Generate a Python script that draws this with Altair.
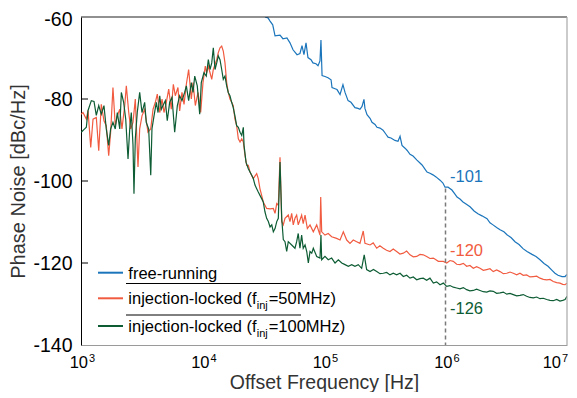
import altair as alt
import pandas as pd

FONT = "Liberation Sans"

# ---- free-running (blue): log10(freq), dBc/Hz
blue_lf = [4.514, 4.539, 4.556, 4.578, 4.597, 4.638, 4.662, 4.695, 4.720, 4.745, 4.778, 4.802,
           4.819, 4.835, 4.852, 4.868, 4.893, 4.909, 4.934, 4.951, 4.967, 4.975, 4.984, 5.008,
           5.033, 5.058, 5.066, 5.091, 5.107, 5.132, 5.156, 5.173, 5.198, 5.222, 5.255, 5.280,
           5.296, 5.313, 5.329, 5.337, 5.354, 5.379, 5.395, 5.420, 5.436, 5.461, 5.486, 5.510,
           5.527, 5.551, 5.584, 5.609, 5.626, 5.642, 5.667, 5.683, 5.708, 5.733, 5.765, 5.790,
           5.807, 5.831, 5.848, 5.872, 5.897, 5.922, 5.955, 5.979, 5.996, 6.021, 6.053, 6.078,
           6.095, 6.119, 6.144, 6.169, 6.202, 6.235, 6.267, 6.300, 6.342, 6.366, 6.391, 6.424,
           6.449, 6.481, 6.506, 6.539, 6.572, 6.605, 6.638, 6.671, 6.712, 6.745, 6.778, 6.811,
           6.844, 6.877, 6.901, 6.926, 6.959, 6.984, 7.000]
blue_db = [-60.0, -60.2, -61.0, -61.9, -64.6, -64.4, -65.3, -65.1, -66.3, -68.0, -69.2, -68.9,
           -67.0, -69.2, -66.3, -69.9, -70.4, -71.2, -71.4, -71.9, -70.7, -65.6, -74.3, -74.5,
           -74.8, -75.3, -77.2, -77.5, -77.7, -78.9, -76.5, -78.4, -80.4, -80.8, -82.1, -82.3,
           -82.5, -81.8, -80.1, -82.3, -83.8, -84.7, -85.7, -86.2, -86.9, -87.1, -87.6, -88.6,
           -89.3, -89.5, -90.1, -90.3, -89.1, -91.3, -92.0, -92.5, -93.5, -93.9, -94.9, -95.6,
           -96.1, -97.1, -97.8, -98.1, -98.5, -99.0, -99.8, -100.5, -101.5, -101.5, -102.2, -103.2,
           -103.9, -104.4, -105.1, -105.6, -106.3, -107.3, -108.0, -108.5, -109.2, -110.2, -110.7, -111.4,
           -111.9, -112.4, -113.1, -113.8, -114.8, -115.5, -116.5, -117.2, -117.9, -118.4, -119.2, -120.1,
           -120.8, -121.8, -122.5, -123.0, -123.3, -123.3, -122.8]

# ---- injection-locked, f_inj = 50 MHz (red)
red_lf = [3.000, 3.016, 3.044, 3.058, 3.080, 3.099, 3.126, 3.146, 3.167, 3.189, 3.208, 3.228,
          3.244, 3.263, 3.282, 3.299, 3.319, 3.337, 3.360, 3.373, 3.393, 3.409, 3.428, 3.447,
          3.469, 3.483, 3.502, 3.524, 3.551, 3.574, 3.593, 3.612, 3.628, 3.648, 3.667, 3.683,
          3.702, 3.722, 3.743, 3.760, 3.776, 3.798, 3.812, 3.831, 3.848, 3.867, 3.886, 3.908,
          3.922, 3.941, 3.963, 3.985, 4.004, 4.023, 4.034, 4.048, 4.062, 4.076, 4.089, 4.103,
          4.117, 4.130, 4.144, 4.158, 4.171, 4.185, 4.199, 4.212, 4.226, 4.240, 4.253, 4.267,
          4.281, 4.295, 4.309, 4.323, 4.336, 4.350, 4.364, 4.377, 4.391, 4.418, 4.446, 4.459,
          4.473, 4.487, 4.500, 4.514, 4.528, 4.556, 4.583, 4.597, 4.611, 4.624, 4.638, 4.652,
          4.665, 4.679, 4.706, 4.720, 4.734, 4.747, 4.761, 4.775, 4.788, 4.816, 4.829, 4.844,
          4.863, 4.885, 4.912, 4.940, 4.967, 4.973, 4.981, 5.008, 5.035, 5.063, 5.104, 5.132,
          5.159, 5.187, 5.214, 5.241, 5.269, 5.296, 5.323, 5.337, 5.379, 5.405, 5.434, 5.460,
          5.488, 5.515, 5.543, 5.570, 5.598, 5.625, 5.653, 5.680, 5.708, 5.735, 5.763, 5.790,
          5.817, 5.845, 5.872, 5.900, 5.941, 5.982, 6.010, 6.037, 6.064, 6.092, 6.119, 6.147,
          6.174, 6.201, 6.229, 6.256, 6.284, 6.311, 6.339, 6.366, 6.393, 6.421, 6.449, 6.476,
          6.504, 6.531, 6.558, 6.586, 6.613, 6.640, 6.668, 6.695, 6.723, 6.750, 6.778, 6.805,
          6.833, 6.860, 6.887, 6.915, 6.942, 6.965, 6.984, 7.000]
red_db = [-83.7, -83.3, -84.9, -82.8, -91.8, -84.9, -84.5, -92.6, -81.3, -85.3, -86.5, -93.8,
          -88.1, -77.2, -86.5, -84.1, -82.5, -87.3, -81.6, -76.8, -83.3, -87.3, -85.7, -80.0,
          -96.6, -87.3, -84.1, -82.5, -88.1, -87.3, -82.5, -80.8, -78.8, -83.3, -80.0, -83.3,
          -80.8, -77.6, -82.5, -76.4, -79.2, -77.2, -82.9, -78.4, -81.3, -76.4, -72.8, -80.0,
          -76.0, -81.6, -78.4, -83.3, -76.0, -72.0, -73.6, -72.0, -73.6, -75.2, -72.8, -71.6,
          -70.4, -68.7, -67.5, -67.1, -68.3, -71.2, -76.0, -78.4, -80.0, -80.8, -81.6, -84.9,
          -86.5, -89.7, -90.5, -89.7, -90.5, -93.8, -96.2, -96.2, -97.8, -99.4, -98.2, -99.4,
          -101.9, -103.5, -105.1, -105.9, -106.7, -106.8, -106.7, -107.9, -105.5, -105.9, -94.2, -109.9,
          -110.7, -109.1, -108.3, -109.9, -107.9, -110.7, -109.1, -108.3, -110.7, -108.3, -110.4, -108.3,
          -111.6, -110.7, -112.4, -110.7, -113.2, -103.9, -112.4, -113.2, -112.8, -113.6, -114.0, -114.4,
          -112.4, -114.4, -115.2, -114.4, -114.8, -115.2, -112.2, -115.2, -115.6, -115.1, -116.4, -115.8,
          -116.4, -116.9, -117.2, -116.6, -117.2, -117.8, -117.6, -117.1, -118.0, -118.5, -118.4, -117.9,
          -118.0, -118.4, -118.9, -118.8, -119.6, -119.6, -120.0, -119.4, -119.6, -120.3, -120.4, -120.1,
          -120.8, -120.6, -121.3, -120.9, -121.3, -121.8, -121.6, -121.4, -122.1, -121.7, -122.1, -122.6,
          -122.5, -122.2, -122.5, -122.9, -122.5, -123.0, -122.9, -123.4, -123.3, -123.2, -123.7, -124.0,
          -124.1, -124.0, -124.5, -124.8, -124.9, -125.2, -125.3, -124.9]

# ---- injection-locked, f_inj = 100 MHz (green)
green_lf = [3.002, 3.030, 3.044, 3.058, 3.085, 3.107, 3.126, 3.146, 3.167, 3.189, 3.208, 3.228,
            3.244, 3.263, 3.282, 3.299, 3.319, 3.332, 3.351, 3.368, 3.387, 3.401, 3.414, 3.428,
            3.436, 3.447, 3.463, 3.483, 3.502, 3.524, 3.537, 3.557, 3.574, 3.584, 3.601, 3.620,
            3.634, 3.648, 3.661, 3.675, 3.694, 3.710, 3.730, 3.749, 3.771, 3.793, 3.812, 3.831,
            3.853, 3.867, 3.886, 3.908, 3.922, 3.936, 3.957, 3.977, 3.990, 4.012, 4.031, 4.048,
            4.062, 4.076, 4.089, 4.103, 4.117, 4.130, 4.144, 4.158, 4.171, 4.185, 4.199, 4.212,
            4.226, 4.240, 4.253, 4.267, 4.281, 4.295, 4.309, 4.323, 4.336, 4.342, 4.358, 4.377,
            4.391, 4.405, 4.418, 4.432, 4.446, 4.459, 4.473, 4.487, 4.500, 4.514, 4.528, 4.542,
            4.556, 4.570, 4.583, 4.597, 4.611, 4.624, 4.638, 4.652, 4.665, 4.679, 4.693, 4.706,
            4.734, 4.761, 4.775, 4.788, 4.802, 4.816, 4.829, 4.844, 4.858, 4.871, 4.885, 4.899,
            4.912, 4.940, 4.967, 4.975, 4.981, 5.008, 5.035, 5.063, 5.091, 5.118, 5.146, 5.173,
            5.200, 5.228, 5.255, 5.282, 5.310, 5.331, 5.351, 5.379, 5.407, 5.434, 5.461, 5.488,
            5.516, 5.543, 5.570, 5.598, 5.626, 5.653, 5.680, 5.708, 5.735, 5.763, 5.790, 5.817,
            5.845, 5.872, 5.900, 5.927, 5.955, 5.982, 6.010, 6.037, 6.064, 6.092, 6.119, 6.147,
            6.174, 6.201, 6.229, 6.256, 6.284, 6.311, 6.339, 6.366, 6.393, 6.421, 6.449, 6.476,
            6.504, 6.531, 6.558, 6.586, 6.613, 6.640, 6.668, 6.695, 6.723, 6.750, 6.778, 6.805,
            6.833, 6.860, 6.887, 6.915, 6.942, 6.965, 6.984, 7.000]
green_db = [-88.1, -87.3, -86.9, -82.8, -80.4, -80.6, -84.0, -81.6, -83.7, -81.6, -87.3, -91.3,
            -87.3, -85.7, -87.3, -83.3, -87.3, -78.4, -80.8, -84.9, -94.6, -87.3, -83.3, -91.3,
            -103.1, -89.7, -83.3, -78.4, -83.3, -80.8, -85.7, -87.3, -98.6, -87.3, -84.1, -80.8,
            -83.3, -79.2, -82.5, -81.6, -80.4, -85.3, -80.8, -79.6, -88.1, -81.6, -79.2, -80.4,
            -78.4, -76.8, -80.4, -76.0, -78.4, -74.4, -76.8, -83.7, -76.0, -73.6, -74.4, -70.4,
            -72.8, -71.2, -67.5, -72.8, -71.2, -69.5, -70.4, -72.8, -75.2, -74.4, -76.8, -78.4,
            -79.2, -80.8, -82.1, -84.1, -86.5, -86.9, -88.1, -88.9, -86.9, -91.3, -95.4, -97.0,
            -97.8, -98.6, -99.4, -101.0, -101.9, -102.7, -103.5, -104.3, -105.1, -107.5, -109.1, -109.9,
            -111.2, -110.7, -112.4, -111.6, -109.9, -109.1, -95.4, -109.1, -114.3, -114.8, -117.2, -114.8,
            -115.6, -116.4, -114.8, -112.8, -116.4, -113.2, -116.4, -115.6, -117.2, -120.0, -117.2, -117.6,
            -116.4, -118.4, -118.8, -113.2, -119.2, -118.4, -119.2, -118.8, -120.0, -119.2, -120.0, -120.4,
            -120.8, -120.4, -120.8, -120.4, -121.3, -118.0, -121.6, -122.1, -121.6, -122.1, -122.6, -122.5,
            -122.3, -122.9, -122.5, -122.9, -122.5, -123.3, -123.0, -123.7, -123.4, -124.1, -123.8, -123.7,
            -124.2, -123.7, -124.9, -124.6, -125.3, -124.9, -125.7, -125.5, -125.9, -126.1, -126.3, -126.0,
            -126.5, -126.8, -126.7, -126.4, -126.7, -127.0, -127.1, -126.8, -126.9, -127.4, -127.3, -127.1,
            -127.6, -127.4, -127.7, -128.0, -127.9, -127.7, -128.1, -128.4, -128.5, -128.3, -128.7, -128.6,
            -128.9, -129.1, -129.2, -128.9, -129.3, -129.1, -128.9, -128.1]

# annotations at 1 MHz
ann_lf = [6.037, 6.037, 6.037]
ann_db = [-99.0, -117.0, -131.3]
ann_text = ["-101", "-120", "-126"]

x_exps = ["3", "4", "5", "6", "7"]

BLUE, RED, GREEN = "#1b75bb", "#f15b40", "#0d5c34"

W, H = 486, 328
xs = alt.Scale(type="log", domain=[1e3, 1e7])
ys = alt.Scale(domain=[-140, -60])


def series(lf, db):
    return pd.DataFrame({"freq": [10 ** v for v in lf], "pn": db})


x_axis = alt.Axis(labels=False, ticks=False, tickSize=0, grid=False, domainColor="#9a9a9a",
                  title="Offset Frequency [Hz]", titleFont=FONT, titleFontSize=19.5,
                  titleFontWeight="normal", titleColor="#333333", titleY=43,
                  titleBaseline="alphabetic", values=[1e3, 1e4, 1e5, 1e6, 1e7])
y_axis = alt.Axis(values=[-140, -120, -100, -80, -60], labelExpr="'' + datum.value",
                  labelFont=FONT, labelFontSize=19.5, labelColor="black", labelPadding=9,
                  labelOffset={"condition": {"test": "datum.value == -60", "value": 2}, "value": 0},
                  labelFlush=False, ticks=False, tickSize=0, grid=False, domainColor="black",
                  title="Phase Noise [dBc/Hz]", titleFont=FONT, titleFontSize=20,
                  titleFontWeight="normal", titleColor="#333333", titleX=-63, titleY=H / 2,
                  titleAngle=-90, titleAlign="center", titleBaseline="middle")

X = lambda f="freq:Q": alt.X(f, scale=xs, axis=x_axis)
Y = lambda f="pn:Q": alt.Y(f, scale=ys, axis=y_axis)


def line(lf, db, color):
    return alt.Chart(series(lf, db)).mark_line(color=color, strokeWidth=1.2, clip=True).encode(
        x=X(), y=Y())


one = pd.DataFrame({"a": [0]})


def ptext(s, x, y, size, color="black", align="left"):
    return alt.Chart(one).mark_text(text=s, font=FONT, fontSize=size, color=color, align=align,
                                    baseline="alphabetic").encode(x=alt.value(x), y=alt.value(y))


def prule(x, x2, y, color, width=1.0):
    return alt.Chart(one).mark_rule(color=color, strokeWidth=width).encode(
        x=alt.value(x), x2=alt.value(x2), y=alt.value(y))


layers = []
layers.append(line(red_lf, red_db, RED))
layers.append(line(green_lf, green_db, GREEN))
layers.append(line(blue_lf, blue_db, BLUE))

# frame: top and right
layers.append(alt.Chart(pd.DataFrame({"pn": [-60]})).mark_rule(color="#222222", strokeWidth=1.2).encode(
    y=Y()))
layers.append(alt.Chart(pd.DataFrame({"freq": [1e7]})).mark_rule(color="#a8a8a8", strokeWidth=1.2).encode(
    x=X()))

# inward y ticks
layers.append(alt.Chart(pd.DataFrame({"pn": [-80, -100, -120]})).mark_rule(color="black").encode(
    y=Y(), x=alt.value(0), x2=alt.value(7)))

# dashed marker at 1 MHz
layers.append(alt.Chart(pd.DataFrame({"freq": [1e6], "pn": [-101.8], "y2": [-140]})).mark_rule(
    color="#7a7a7a", strokeWidth=1.5, strokeDash=[4, 3]).encode(
    x=X(), y=Y(), y2="y2:Q"))

# annotations
ann_df = pd.DataFrame({"freq": [10 ** v for v in ann_lf], "pn": ann_db, "t": ann_text,
                       "c": [BLUE, RED, GREEN]})
layers.append(alt.Chart(ann_df).mark_text(font=FONT, fontSize=16.5, align="left", baseline="middle").encode(
    x=X(), y=Y(), text="t:N", color=alt.Color("c:N", scale=None)))

# x tick labels 10^n
xl = pd.DataFrame({"freq": [10.0 ** int(e) for e in x_exps[:-1]], "e": x_exps[:-1]})
layers.append(alt.Chart(xl).mark_text(font=FONT, fontSize=16.5, align="right", baseline="alphabetic",
                                      dx=7, color="black").encode(
    x=X(), y=alt.value(H + 23), text=alt.value("10")))
layers.append(alt.Chart(xl).mark_text(font=FONT, fontSize=11, align="left", baseline="alphabetic",
                                      dx=8, color="black").encode(
    x=X(), y=alt.value(H + 17), text="e:N"))
xl7 = pd.DataFrame({"freq": [1e7], "e": [x_exps[-1]]})
layers.append(alt.Chart(xl7).mark_text(font=FONT, fontSize=16.5, align="right", baseline="alphabetic",
                                       dx=-6, color="black").encode(
    x=X(), y=alt.value(H + 23), text=alt.value("10")))
layers.append(alt.Chart(xl7).mark_text(font=FONT, fontSize=11, align="left", baseline="alphabetic",
                                       dx=-5, color="black").encode(
    x=X(), y=alt.value(H + 17), text="e:N"))

# legend
leg_y = [255.7, 281.3, 309.0]
for yy, col in zip(leg_y, [BLUE, RED, GREEN]):
    layers.append(prule(17, 42, yy, col, 2.0))
layers.append(prule(45, 220, 266.5, "black", 1.0))
layers.append(prule(45, 220, 298.0, "black", 1.0))
layers.append(ptext("free-running", 47.3, leg_y[0] + 6, 16.5))
for yy, tail in zip(leg_y[1:], ["=50MHz)", "=100MHz)"]):
    layers.append(ptext("injection-locked (f", 47.3, yy + 6, 16.5))
    layers.append(ptext("inj", 175.7, yy + 10.5, 11))
    layers.append(ptext(tail, 187.7, yy + 6, 16.5))

chart = alt.layer(*layers).properties(
    width=W, height=H,
    padding={"left": 73, "top": 9, "right": 2, "bottom": 47},
    autosize=alt.AutoSizeParams(type="none"),
).configure_view(stroke=None)

chart.save("out.html", embed_options={"renderer": "svg", "actions": False})
